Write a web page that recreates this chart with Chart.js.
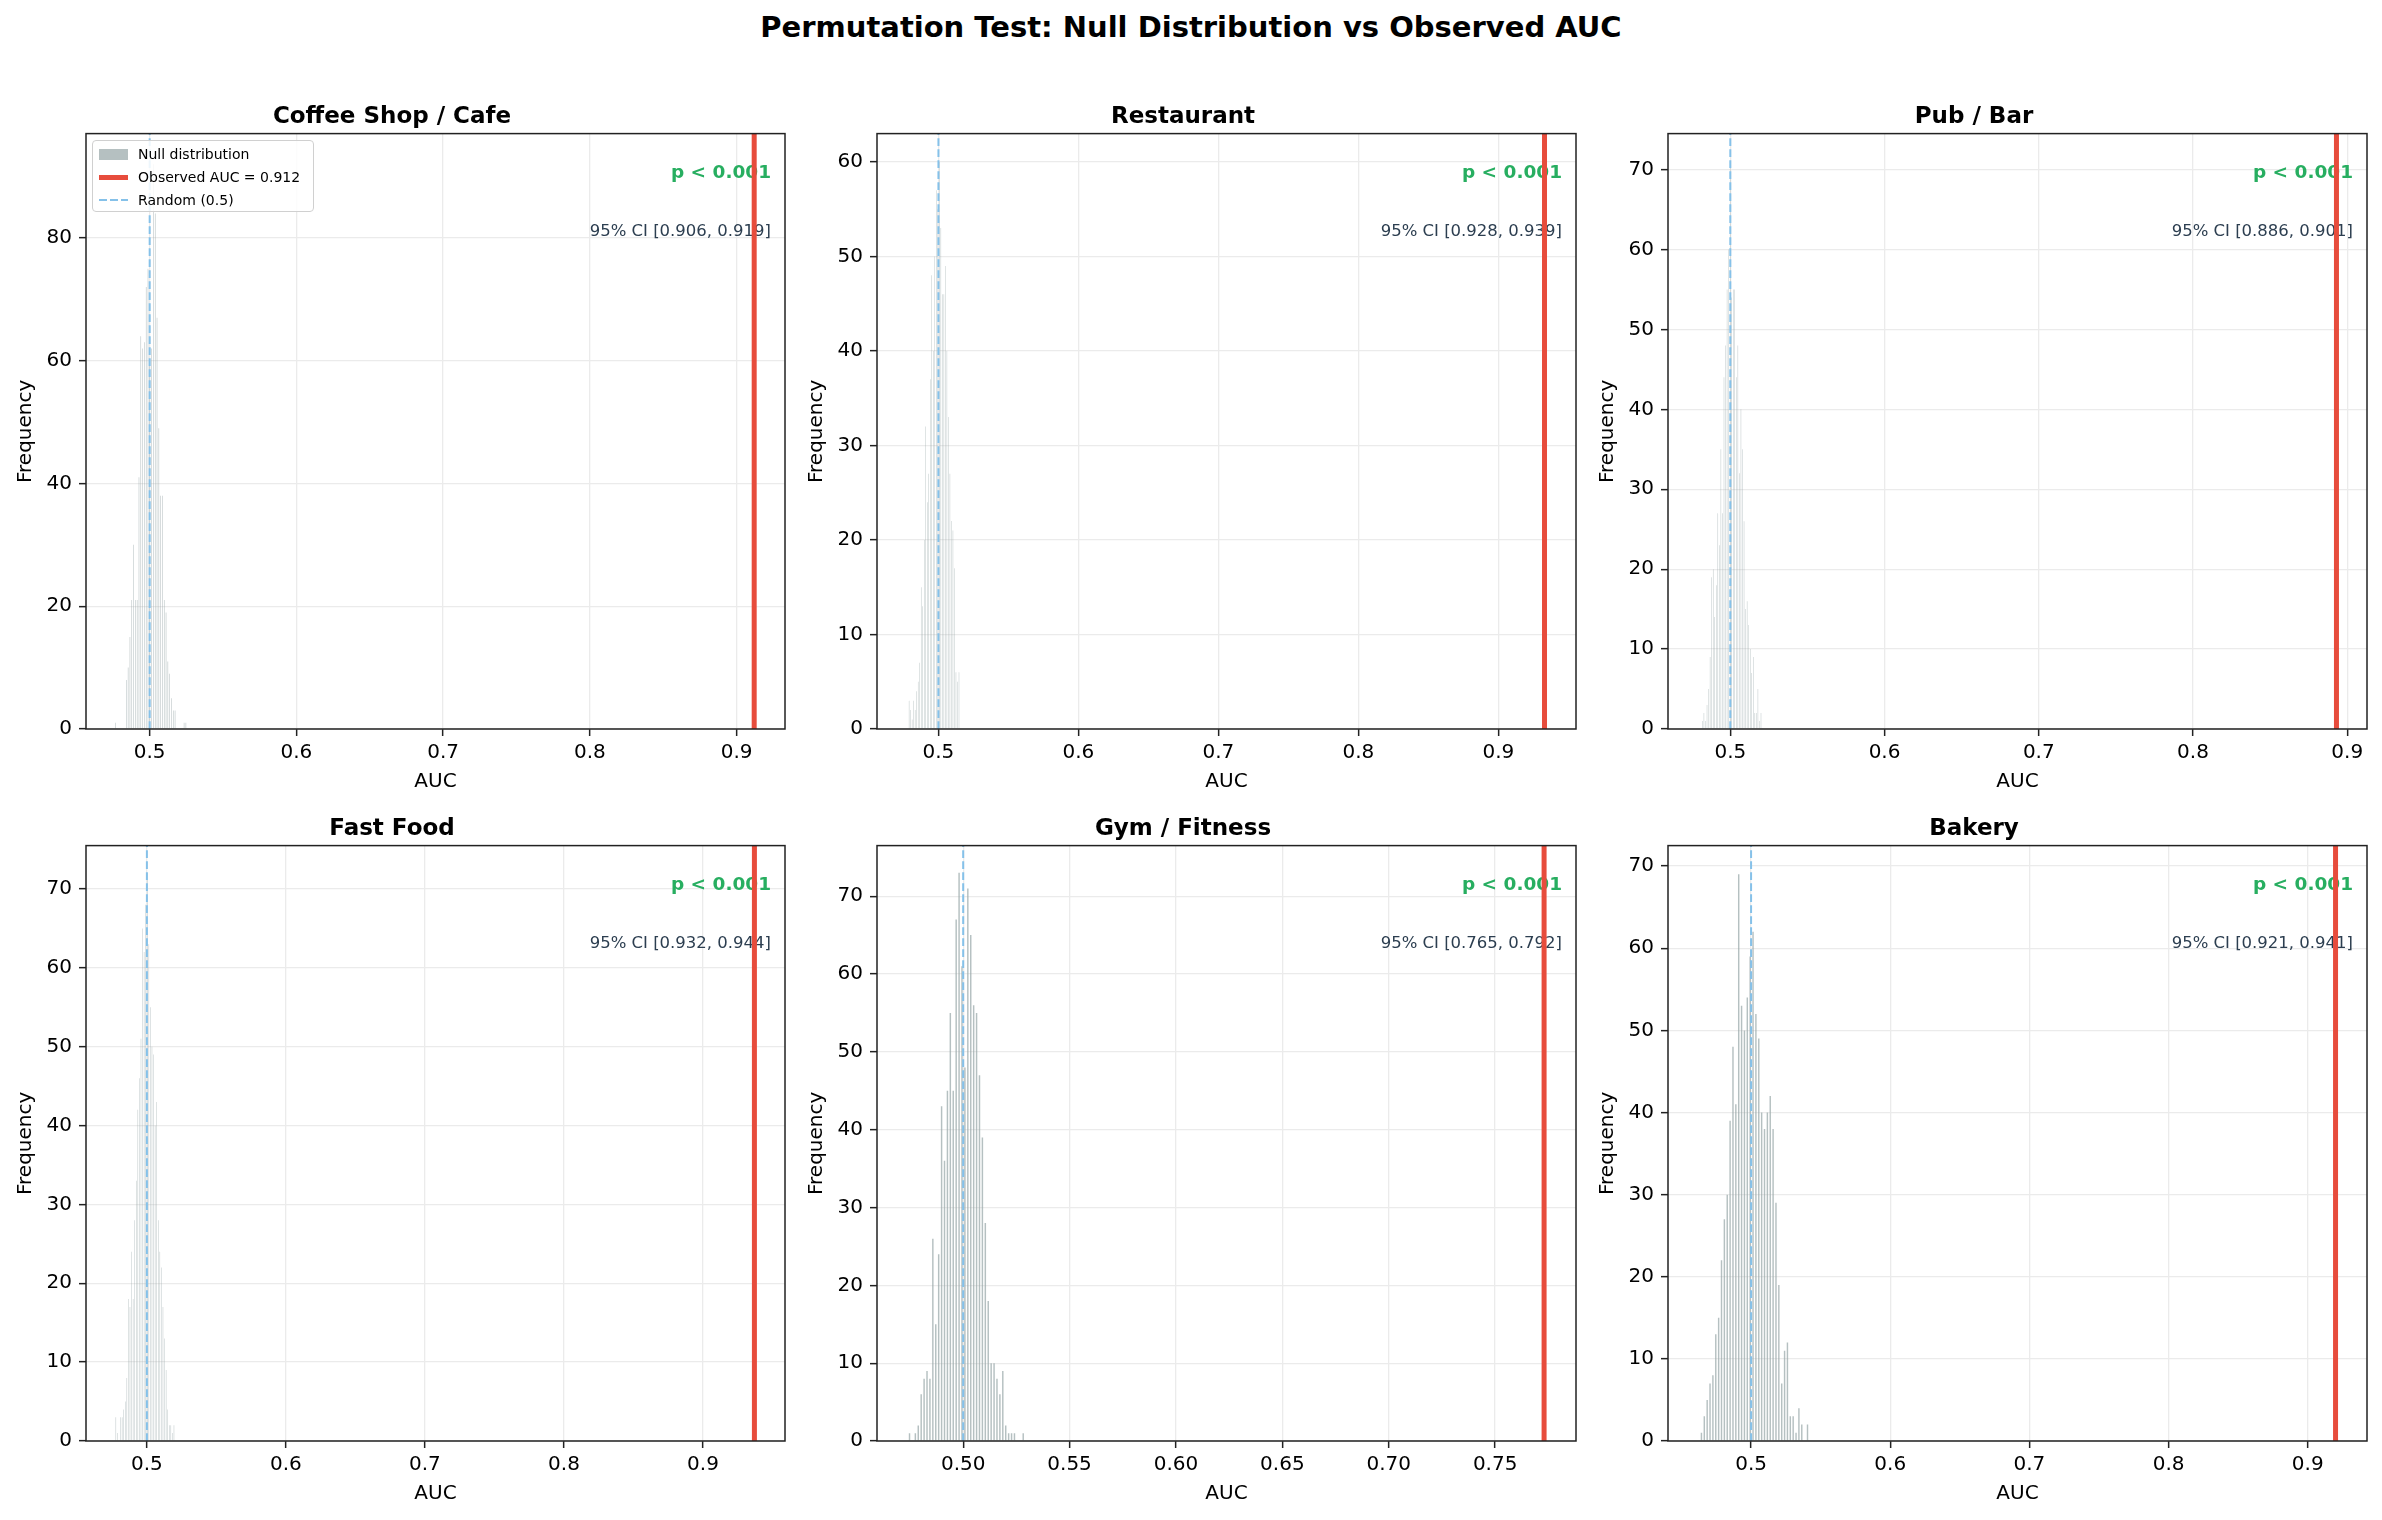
<!DOCTYPE html>
<html>
<head>
<meta charset="utf-8">
<script src="https://cdn.jsdelivr.net/npm/chart.js@4.4.0/dist/chart.umd.min.js"></script>
<style>
  body { margin: 0; background: #fff; font-family: "DejaVu Sans", sans-serif; }
  #page { position: relative; width: 2382px; height: 1520px; overflow: hidden; background: #fff; }
  #title { position: absolute; left: 0; top: 10px; width: 2382px; text-align: center;
           font-weight: bold; font-size: 29px; line-height: 34px; color: #000; }
  .panel { position: absolute; }
  #legend { position: absolute; left: 92px; top: 140px; width: 220px; height: 70px;
            border: 1.5px solid #d0d0d0; border-radius: 4px; background: rgba(255,255,255,0.85);
            font-size: 14px; color: #000; }
  #legend .row { position: absolute; left: 0; height: 20px; line-height: 20px; }
  #legend .row span.txt { position: absolute; left: 45px; white-space: nowrap; }
  #legend .sw { position: absolute; left: 6px; width: 29px; }
</style>
</head>
<body>
<div id="page">
  <div id="title">Permutation Test: Null Distribution vs Observed AUC</div>
</div>
<script>
// 패널 제목
const panelTitles = ['Coffee Shop / Cafe', 'Restaurant', 'Pub / Bar', 'Fast Food', 'Gym / Fitness', 'Bakery'];

// 관측 AUC와 95% 신뢰구간
const observedAuc = [0.912, 0.933, 0.893, 0.937, 0.773, 0.920];
const ciLow = [0.906, 0.928, 0.886, 0.932, 0.765, 0.921];
const ciHigh = [0.919, 0.939, 0.901, 0.944, 0.792, 0.941];
const pLabels = ['p < 0.001', 'p < 0.001', 'p < 0.001', 'p < 0.001', 'p < 0.001', 'p < 0.001'];

// 히스토그램 구간 (첫 구간 왼쪽 끝, 구간 폭)
const binStart = [0.4761, 0.4785, 0.4814, 0.4771, 0.4741, 0.4633];
const binWidth = [0.00123, 0.00108, 0.001, 0.00113, 0.00137, 0.00206];

// 순열 귀무분포 빈도
const coffeeCounts = [1, 0, 0, 0, 0, 0, 8, 10, 15, 21, 30, 21, 21, 41, 64, 62, 63, 72, 75, 60,
  62, 92, 84, 67, 49, 38, 38, 21, 19, 11, 9, 5, 3, 3, 0, 0, 0, 0, 1, 1];
const restaurantCounts = [3, 2, 1, 3, 2, 4, 5, 7, 15, 13, 20, 32, 24, 27, 37, 48, 40, 50, 57, 55,
  60, 53, 46, 46, 49, 40, 33, 27, 22, 21, 17, 6, 5, 6];
const pubCounts = [1, 2, 1, 3, 5, 9, 19, 20, 14, 18, 27, 23, 35, 27, 44, 48, 55, 60, 71, 54,
  55, 55, 44, 48, 32, 40, 35, 26, 15, 16, 13, 10, 7, 9, 2, 2, 5, 1, 2];
const fastFoodCounts = [3, 1, 0, 3, 3, 4, 5, 8, 18, 17, 24, 18, 28, 33, 42, 46, 51, 65, 62, 68,
  72, 63, 55, 50, 49, 40, 43, 28, 24, 22, 17, 13, 9, 4, 2, 2, 1, 2];
const gymCounts = [1, 0, 1, 2, 6, 8, 9, 8, 26, 15, 24, 43, 36, 45, 55, 45, 67, 73, 61, 48,
  71, 65, 56, 55, 47, 39, 28, 18, 10, 10, 8, 6, 9, 2, 1, 1, 1, 0, 0, 1];
const bakeryCounts = [1, 3, 5, 7, 8, 13, 15, 22, 27, 30, 39, 48, 41, 69, 53, 50, 54, 59, 62, 52,
  49, 40, 38, 40, 42, 38, 29, 19, 7, 11, 12, 3, 3, 1, 4, 2, 0, 2];
const allCounts = [coffeeCounts, restaurantCounts, pubCounts, fastFoodCounts, gymCounts, bakeryCounts];

// 축 범위와 눈금
const xMin = [0.4566, 0.4561, 0.4596, 0.4562, 0.4595, 0.4403];
const xMax = [0.933, 0.9555, 0.9128, 0.959, 0.788, 0.9426];
const yMax = [97, 63, 74.5, 75.5, 76.5, 72.5];
const xTicks = [
  [0.5, 0.6, 0.7, 0.8, 0.9],
  [0.5, 0.6, 0.7, 0.8, 0.9],
  [0.5, 0.6, 0.7, 0.8, 0.9],
  [0.5, 0.6, 0.7, 0.8, 0.9],
  [0.5, 0.55, 0.6, 0.65, 0.7, 0.75],
  [0.5, 0.6, 0.7, 0.8, 0.9]
];
const xDecimals = [1, 1, 1, 1, 2, 1];
const yTicks = [
  [0, 20, 40, 60, 80],
  [0, 10, 20, 30, 40, 50, 60],
  [0, 10, 20, 30, 40, 50, 60, 70],
  [0, 10, 20, 30, 40, 50, 60, 70],
  [0, 10, 20, 30, 40, 50, 60, 70],
  [0, 10, 20, 30, 40, 50, 60, 70]
];

// 레이아웃 (그림 영역 픽셀 위치)
const plotLeft = [86, 877, 1668];
const plotTop = [134, 846];
const plotW = 699;
const plotH = 595;
const barPct = [0.3, 0.28, 0.28, 0.28, 0.5, 0.5];

const FONT = '"DejaVu Sans", sans-serif';
const RED = '#e74c3c';
const BLUE = '#85c1e9';
const GREEN = '#27ae60';

// 테두리와 p값 / 신뢰구간 텍스트
const panelDecor = {
  id: 'panelDecor',
  beforeDatasetsDraw(chart, args, opts) {
    const { ctx, chartArea: a } = chart;
    ctx.save();
    ctx.textAlign = 'right';
    ctx.textBaseline = 'middle';
    const x = a.left + a.width * 0.98;
    ctx.fillStyle = GREEN;
    ctx.font = 'bold 18.5px ' + FONT;
    ctx.fillText(opts.pText, x, a.top + a.height * 0.067);
    ctx.fillStyle = '#2c3e50';
    ctx.font = '16.5px ' + FONT;
    ctx.fillText(opts.ciText, x, a.top + a.height * 0.164);
    ctx.restore();
  },
  afterDraw(chart) {
    const { ctx, chartArea: a } = chart;
    ctx.save();
    ctx.strokeStyle = '#222';
    ctx.lineWidth = 1.5;
    ctx.strokeRect(a.left, a.top, a.width, a.height);
    ctx.restore();
  }
};

function createPanel(i) {
  const col = i % 3;
  const row = Math.floor(i / 3);
  const padL = 87, padT = 60, padR = 14, padB = 75;

  const wrap = document.createElement('div');
  wrap.className = 'panel';
  wrap.style.left = (plotLeft[col] - padL) + 'px';
  wrap.style.top = (plotTop[row] - padT) + 'px';
  const canvas = document.createElement('canvas');
  canvas.width = plotW + padL + padR;
  canvas.height = plotH + padT + padB;
  wrap.appendChild(canvas);
  document.getElementById('page').appendChild(wrap);

  const counts = allCounts[i];
  const bars = counts.map((c, k) => ({ x: binStart[i] + (k + 0.5) * binWidth[i], y: c }));
  const obs = observedAuc[i];

  new Chart(canvas.getContext('2d'), {
    type: 'bar',
    data: {
      datasets: [
        {
          type: 'line',
          label: 'Observed AUC = ' + obs.toFixed(3),
          data: [{ x: obs, y: 0 }, { x: obs, y: yMax[i] }],
          borderColor: RED,
          borderWidth: 5,
          pointRadius: 0,
          order: 0
        },
        {
          type: 'line',
          label: 'Random (0.5)',
          data: [{ x: 0.5, y: 0 }, { x: 0.5, y: yMax[i] }],
          borderColor: BLUE,
          borderWidth: 2,
          borderDash: [7.7, 3.3],
          pointRadius: 0,
          order: 1
        },
        {
          label: 'Null distribution',
          data: bars,
          backgroundColor: 'rgba(149,165,166,0.7)',
          barPercentage: barPct[i],
          categoryPercentage: 1,
          grouped: false,
          order: 2
        }
      ]
    },
    options: {
      responsive: false,
      animation: false,
      events: [],
      layout: { padding: { top: 0, right: padR, bottom: 0, left: 0 } },
      plugins: {
        legend: { display: false },
        tooltip: { enabled: false },
        title: {
          display: true,
          text: panelTitles[i],
          color: '#000',
          font: { family: FONT, size: 23, weight: 'bold' },
          padding: { top: 29, bottom: 3 }
        },
        panelDecor: {
          pText: pLabels[i],
          ciText: '95% CI [' + ciLow[i].toFixed(3) + ', ' + ciHigh[i].toFixed(3) + ']'
        }
      },
      scales: {
        x: {
          type: 'linear',
          min: xMin[i],
          max: xMax[i],
          offset: false,
          afterBuildTicks: (s) => { s.ticks = xTicks[i].map(v => ({ value: v })); },
          afterFit: (s) => { s.height = padB; },
          grid: { offset: false, color: '#ebebeb', lineWidth: 1.3, tickColor: '#222', tickLength: 7, tickWidth: 1.5 },
          border: { display: false },
          ticks: {
            color: '#000', padding: 5, maxRotation: 0, autoSkip: false,
            font: { family: FONT, size: 20 },
            callback: (v) => Number(v).toFixed(xDecimals[i])
          },
          title: { display: true, text: 'AUC', color: '#000', font: { family: FONT, size: 20 }, padding: { bottom: 10 } }
        },
        y: {
          min: 0,
          max: yMax[i],
          afterBuildTicks: (s) => { s.ticks = yTicks[i].map(v => ({ value: v })); },
          afterFit: (s) => { s.width = padL; },
          grid: { color: '#ebebeb', lineWidth: 1.3, tickColor: '#222', tickLength: 7, tickWidth: 1.5 },
          border: { display: false },
          ticks: {
            color: '#000', padding: 7, autoSkip: false,
            font: { family: FONT, size: 20 },
            callback: (v) => String(v)
          },
          title: { display: true, text: 'Frequency', color: '#000', font: { family: FONT, size: 20 }, padding: { top: 15 } }
        }
      }
    },
    plugins: [panelDecor]
  });
}

function createLegend() {
  const lg = document.createElement('div');
  lg.id = 'legend';
  const items = [
    { text: 'Null distribution', style: 'top:5px;height:11px;background:rgba(149,165,166,0.7);' },
    { text: 'Observed AUC = ' + observedAuc[0].toFixed(3), style: 'top:7.5px;height:5px;background:' + RED + ';' },
    { text: 'Random (0.5)', style: 'top:9px;height:2px;background:repeating-linear-gradient(to right,' + BLUE + ' 0 8px,transparent 8px 11px);' }
  ];
  items.forEach((it, k) => {
    const r = document.createElement('div');
    r.className = 'row';
    r.style.top = (3 + k * 23) + 'px';
    r.style.width = '220px';
    r.innerHTML = '<span class="sw" style="' + it.style + '"></span><span class="txt">' + it.text + '</span>';
    lg.appendChild(r);
  });
  document.getElementById('page').appendChild(lg);
}

for (let i = 0; i < 6; i++) {
  createPanel(i);
}
createLegend();
</script>
</body>
</html>
